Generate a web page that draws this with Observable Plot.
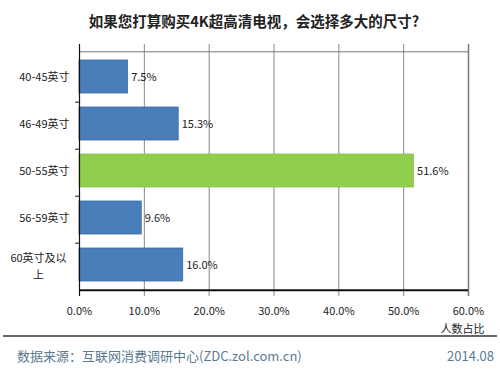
<!DOCTYPE html>
<html><head><meta charset="utf-8">
<script src="https://cdn.jsdelivr.net/npm/d3@7"></script>
<script src="https://cdn.jsdelivr.net/npm/@observablehq/plot@0.6"></script>
<style>
body{margin:0;background:#fff;}
#wrap{position:relative;width:500px;height:371px;overflow:hidden;font-family:"Noto Sans CJK SC","Liberation Sans",sans-serif;}
#title{position:absolute;left:0;width:508px;top:10px;text-align:center;font-size:14.5px;font-weight:bold;color:#222;}
#line{position:absolute;left:3px;width:494px;top:335px;height:2px;background:#666;}
#src{position:absolute;left:17px;top:346px;font-size:13px;color:#5a7a92;}
#date{position:absolute;right:6px;top:346px;font-size:13px;color:#5a7a92;}
#wrap svg{position:absolute;left:0;top:0;}
</style></head>
<body><div id="wrap">
<div id="title">如果您打算购买4K超高清电视，会选择多大的尺寸?</div>
<div id="line"></div>
<div id="src">数据来源：互联网消费调研中心(ZDC.zol.com.cn)</div>
<div id="date">2014.08</div>
</div>
<script>
const categories = ["40-45英寸","46-49英寸","50-55英寸","56-59英寸","60英寸及以上"];
const values = [7.5, 15.3, 51.6, 9.6, 16.0];
const highlight = "50-55英寸";
const xTicks = [0,10,20,30,40,50,60];
const xLabel = "人数占比";
const wrapped = {"60英寸及以上": "60英寸及以\n上"};

const data = categories.map((c,i)=>({cat:c, v:values[i]}));
const font = "Noto Sans CJK SC, Liberation Sans, sans-serif";

const chart = Plot.plot({
  width: 500, height: 371,
  marginLeft: 79, marginRight: 32, marginTop: 44, marginBottom: 75,
  style: {fontFamily: font, fontSize: "11px", color: "#222", background: "transparent"},
  x: {domain: [0,60], ticks: xTicks, tickFormat: d => d.toFixed(1)+"%", tickSize: 0, tickPadding: 11, label: null},
  y: {domain: categories, padding: 0.3, label: null, axis: null},
  marks: [
    Plot.gridX(xTicks.filter(t=>t>0 && t<60), {stroke: "#888", strokeOpacity: 1, strokeWidth: 1}),
    Plot.ruleX([60], {stroke: "#777", strokeWidth: 1.5}),
    Plot.ruleY([categories[0]], {dy: -25.2, stroke: "#777", strokeWidth: 1, x1: 0, x2: 60}),
    Plot.axisY({tickSize: 0, tickPadding: 10, label: null, fontSize: 11,
      tickFormat: d => wrapped[d] ? "" : d}),
    Plot.text(categories.filter(c => wrapped[c]), {y: d => d, text: d => wrapped[d], frameAnchor: "left",
      dx: -41, textAnchor: "middle", lineHeight: 1.55, fontSize: 11, fill: "#222"}),
    Plot.barX(data, {y: "cat", x: "v", fill: d => d.cat === highlight ? "#8fcf4c" : "#4a7ebb",
      stroke: d => d.cat === highlight ? "#86c444" : "#3a6aa4", strokeWidth: 0.8}),
    Plot.text(data, {y: "cat", x: "v", text: d => d.v.toFixed(1)+"%", textAnchor: "start", dx: 3, fill: "#222", fontSize: 11}),
    Plot.ruleY(categories.slice(0,4), {dy: 25.2, x1: -0.6, x2: 0, stroke: "#111", strokeWidth: 1}),
    Plot.ruleX([0], {stroke: "#111", strokeWidth: 1.2}),
    Plot.ruleY([categories[4]], {dy: 25.2, x1: 0, x2: 60, stroke: "#111", strokeWidth: 2}),
    Plot.text([xLabel], {frameAnchor: "bottom-right", dx: 16, dy: 36, fill: "#222", fontSize: 11})
  ]
});
document.getElementById("wrap").appendChild(chart);
</script>
</body></html>
